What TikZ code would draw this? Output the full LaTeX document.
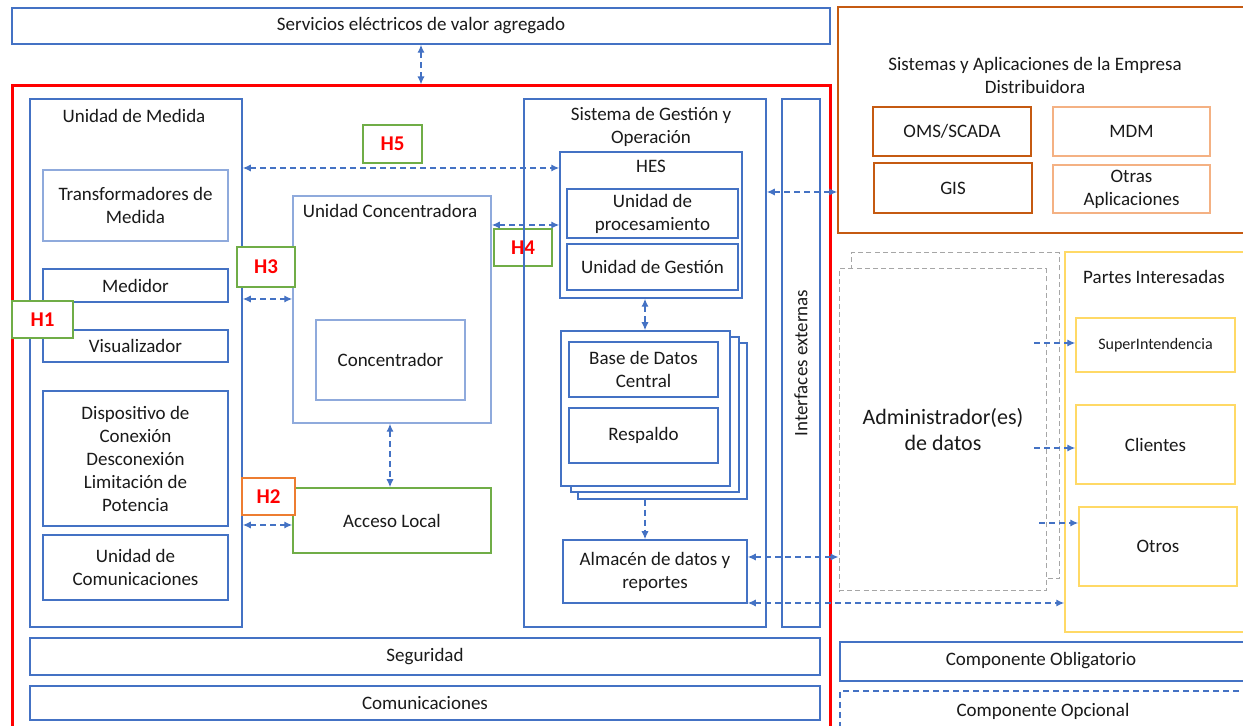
\documentclass[tikz,border=0pt]{standalone}
\usepackage{fontspec}
\setmainfont{Carlito}
\usetikzlibrary{fit,arrows.meta}
\definecolor{bl}{HTML}{4472C4}
\definecolor{lbl}{HTML}{8FAADC}
\definecolor{rd}{HTML}{FF0000}
\definecolor{gr}{HTML}{70AD47}
\definecolor{org}{HTML}{ED7D31}
\definecolor{dorg}{HTML}{C55A11}
\definecolor{lorg}{HTML}{F4B183}
\definecolor{yl}{HTML}{FFD966}
\definecolor{gry}{HTML}{A6A6A6}
\definecolor{txt}{HTML}{1A1A1A}
\tikzset{
  every node/.style={font=\fontsize{9.5}{11.5}\selectfont, text=txt, align=center},
  box/.style={draw=bl, line width=0.75pt, inner sep=0pt, fill=white},
  lbox/.style={draw=lbl, line width=0.75pt, inner sep=0pt, fill=white},
  hbox/.style={draw=gr, line width=0.75pt, inner sep=0pt, fill=white},
  hlab/.style={font=\fontsize{10.5}{12}\selectfont\bfseries, text=rd},
  obox/.style={draw=dorg, line width=0.75pt, inner sep=0pt, fill=white},
  lobox/.style={draw=lorg, line width=0.75pt, inner sep=0pt, fill=white},
  ybox/.style={draw=yl, line width=0.75pt, inner sep=0pt, fill=white},
  gbox/.style={draw=gry, line width=0.5pt, dash pattern=on 2.5pt off 1.6pt, inner sep=0pt, fill=white},
  arr/.style={draw=bl, line width=0.7pt, dash pattern=on 3pt off 2pt,
     {Latex[length=4pt,width=3.6pt]}-{Latex[length=4pt,width=3.6pt]}},
  sarr/.style={draw=bl, line width=0.7pt, dash pattern=on 3pt off 2pt,
     -{Latex[length=4pt,width=3.6pt]}},
}
\begin{document}
\begin{tikzpicture}[x=0.5pt,y=-0.5pt]
\useasboundingbox (0,0) rectangle (1243,726);

% top service box
\node[box, fit={(12,8)(830,44)}, label={center:Servicios eléctricos de valor agregado}] (serv) {};
% red frame
\node[draw=rd, line width=1.5pt, inner sep=0pt, fit={(12,86)(830,760)}] (red) {};

% Unidad de Medida
\node[box, fit={(30,99)(242,627)}] (um) {};
\node (umt) at (134,116) {Unidad de Medida};
\node[lbox, fit={(43,170)(228,241)}, label={center:{Transformadores de\\Medida}}] (tm) {};
\node[box, fit={(43,269)(228,302)}, label={center:Medidor}] (med) {};
\node[box, fit={(43,330)(228,362)}, label={center:Visualizador}] (vis) {};
\node[box, fit={(43,391)(228,526)}, label={center:{Dispositivo de\\Conexión\\Desconexión\\Limitación de\\Potencia}}] (disp) {};
\node[box, fit={(43,535)(228,600)}, label={center:{Unidad de\\Comunicaciones}}] (ucom) {};
\node[hbox, fit={(12,301)(73,338)}, label={[hlab]center:H1}] (h1) {};

% Unidad Concentradora
\node[lbox, fit={(293,196)(491,423)}] (uc) {};
\node (uct) at (390,211) {Unidad Concentradora};
\node[lbox, fit={(316,320)(465,400)}, label={center:Concentrador}] (conc) {};
\node[box, draw=gr, fit={(293,488)(491,553)}, label={center:Acceso Local}] (al) {};

% H boxes
\node[hbox, fit={(363,125)(422,163)}, label={[hlab]center:H5}] (h5) {};
\node[hbox, fit={(237,247)(295,287)}, label={[hlab]center:H3}] (h3) {};
\node[hbox, fit={(494,229)(552,266)}, label={[hlab]center:H4}] (h4) {};
\node[hbox, draw=org, fit={(242,478)(295,515)}, label={[hlab]center:H2}] (h2) {};

% Sistema de Gestion
\node[box, fill=none, fit={(524,99)(766,627)}] (sg) {};
\node (sgt) at (651,127) {Sistema de Gestión y\\Operación};
\node[box, fit={(560,152)(742,298)}] (hes) {};
\node (hest) at (651,166) {HES};
\node[box, fit={(567,189)(738,238)}, label={center:{Unidad de\\procesamiento}}] (up) {};
\node[box, fit={(567,244)(738,290)}, label={center:Unidad de Gestión}] (ug) {};
\node[box, fit={(578,343)(747,499)}] (db3) {};
\node[box, fit={(571,337)(739,492)}] (db2) {};
\node[box, fit={(561,331)(730,486)}] (db1) {};
\node[box, fit={(569,342)(718,397)}, label={center:{Base de Datos\\Central}}] (bdc) {};
\node[box, fit={(569,408)(718,463)}, label={center:Respaldo}] (resp) {};
\node[box, fit={(563,540)(747,603)}, label={center:{Almacén de datos y\\reportes}}] (alm) {};

% Interfaces externas
\node[box, fit={(782,99)(820,627)}] (ie) {};
\node[rotate=90] (iet) at (801,363) {Interfaces externas};

% Seguridad / Comunicaciones
\node[box, fit={(30,638)(820,675)}, label={center:Seguridad}] (seg) {};
\node[box, fit={(30,686)(820,720)}, label={center:Comunicaciones}] (com) {};

% Sistemas y Aplicaciones
\node[obox, fit={(838,7)(1260,233)}] (sa) {};
\node (sat) at (1035,75) {Sistemas y Aplicaciones de la Empresa\\Distribuidora};
\node[obox, fit={(873,107)(1031,156)}, label={center:OMS/SCADA}] (oms) {};
\node[lobox, fit={(1053,107)(1210,156)}, label={center:MDM}] (mdm) {};
\node[obox, fit={(874,163)(1032,213)}, label={center:GIS}] (gis) {};
\node[lobox, fit={(1053,165)(1210,213)}, label={center:{Otras\\Aplicaciones}}] (otras) {};

% Administrador de datos
\node[gbox, fit={(851,253)(1059,579)}] (adm2) {};
\node[gbox, fit={(839,269)(1046,591)}] (adm) {};
\node[font=\fontsize{11}{13}\selectfont] (admt) at (943,430) {Administrador(es)\\de datos};

% Partes Interesadas
\node[ybox, fit={(1065,252)(1260,632)}] (pi) {};
\node (pit) at (1154,277) {Partes Interesadas};
\node[ybox, fit={(1076,318)(1235,372)}, label={[font=\fontsize{8}{10}\selectfont]center:SuperIntendencia}] (sup) {};
\node[ybox, fit={(1076,405)(1235,484)}, label={center:Clientes}] (cli) {};
\node[ybox, fit={(1079,507)(1237,586)}, label={center:Otros}] (otr) {};

% Legend
\node[box, fit={(840,642)(1260,681)}] (cob) {};
\node (cobt) at (1041,661) {Componente Obligatorio};
\node[box, dash pattern=on 3pt off 2pt, fit={(840,691)(1260,760)}] (cop) {};
\node (copt) at (1043,711) {Componente Opcional};

% connectors
\draw[arr] (serv.south) -- (red.north);
\draw[arr] (um.east |- 0,168) -- (hes.west |- 0,168);
\draw[arr] (uc.east |- 0,225) -- (hes.west |- 0,225);
\draw[arr] (um.east |- 0,299) -- (uc.west |- 0,299);
\draw[arr] (um.east |- 0,525) -- (al.west |- 0,525);
\draw[arr] (uc.south -| 390,0) -- (al.north -| 390,0);
\draw[arr] (sg.east |- 0,192) -- (sa.west |- 0,192);
\draw[arr] (hes.south -| 645,0) -- (db1.north -| 645,0);
\draw[sarr] (db3.south -| 645,0) -- (alm.north -| 645,0);
\draw[arr] (alm.east |- 0,557) -- (adm.west |- 0,557);
\draw[arr] (alm.east |- 0,603) -- (pi.west |- 0,603);
\coordinate (s1) at (1034,343);
\coordinate (s2) at (1034,448);
\coordinate (s3) at (1039,523);
\draw[sarr] (s1) -- (sup.west |- s1);
\draw[sarr] (s2) -- (cli.west |- s2);
\draw[sarr] (s3) -- (otr.west |- s3);
\end{tikzpicture}
\end{document}
